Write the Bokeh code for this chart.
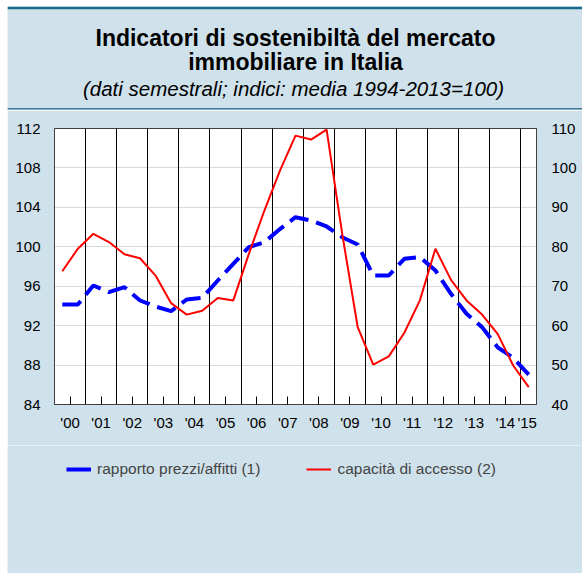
from bokeh.plotting import figure
from bokeh.models import (Range1d, LinearAxis, FixedTicker, Span, Label, Legend,
                          LegendItem, ColumnDataSource, Grid)
from bokeh.layouts import column
from bokeh.embed import file_html
from bokeh.resources import INLINE

# ---------------- data ----------------
periods = [2000.25, 2000.75, 2001.25, 2001.75, 2002.25, 2002.75, 2003.25, 2003.75,
           2004.25, 2004.75, 2005.25, 2005.75, 2006.25, 2006.75, 2007.25, 2007.75,
           2008.25, 2008.75, 2009.25, 2009.75, 2010.25, 2010.75, 2011.25, 2011.75,
           2012.25, 2012.75, 2013.25, 2013.75, 2014.25, 2014.75, 2015.25]

# rapporto prezzi/affitti (left axis)
prezzi_affitti = [94.15, 94.15, 96.07, 95.4, 95.9, 94.55, 93.94, 93.47,
                  94.65, 94.82, 96.58, 98.27, 99.96, 100.47, 101.8, 103.0,
                  102.67, 102.06, 100.97, 100.23, 97.09, 97.09, 98.78, 98.95,
                  97.6, 95.23, 93.2, 91.85, 89.8, 88.74, 87.04]

# capacità di accesso (right axis)
capacita_accesso = [73.8, 79.5, 83.3, 81.2, 78.1, 77.1, 72.7, 65.7,
                    62.8, 63.8, 67.0, 66.4, 78.2, 89.2, 99.3, 108.2,
                    107.2, 109.7, 83.4, 59.6, 50.1, 52.2, 58.2, 66.4,
                    79.5, 71.6, 66.4, 62.8, 57.9, 49.9, 44.4]

years = list(range(2000, 2016))
year_labels = ["'00", "'01", "'02", "'03", "'04", "'05", "'06", "'07",
               "'08", "'09", "'10", "'11", "'12", "'13", "'14", "'15"]
left_ticks = [84, 88, 92, 96, 100, 104, 108, 112]
right_ticks = [40, 50, 60, 70, 80, 90, 100, 110]

title1 = "Indicatori di sostenibiltà del mercato"
title2 = "immobiliare in Italia"
subtitle = "(dati semestrali; indici: media 1994-2013=100)"
legend_labels = ["rapporto prezzi/affitti (1)", "capacità di accesso (2)"]

# ---------------- styling ----------------
BG = "#cfe1eb"
FONT = "Liberation Sans"
W = 575

label_pos = [y + 0.5 for y in years[:-1]] + [years[-1] + 0.2]
mid_ticks = [y + 0.5 for y in years[:-1]]
year_bounds = years[1:]

def bare(fig):
    fig.xgrid.visible = False
    fig.ygrid.visible = False
    return fig

# ---------------- header ----------------
h = figure(width=W, height=104, x_range=Range1d(0, W), y_range=Range1d(0, 104),
           output_backend="svg", toolbar_location=None, min_border=0, frame_align=False,
           x_axis_type=None, y_axis_type=None,
           background_fill_color=BG, border_fill_color=BG, outline_line_color=None)
bare(h)
h.add_layout(Span(location=102.7, dimension="width", line_color="#176a8c", line_width=2.7))
h.add_layout(Span(location=1.7, dimension="width", line_color="#3d7d9b", line_width=1.5))
h.add_layout(Label(x=288, y=73, text=title1, text_align="center", text_baseline="alphabetic",
                   text_font=FONT, text_font_style="bold", text_font_size="23px", text_color="black"))
h.add_layout(Label(x=288, y=49, text=title2, text_align="center", text_baseline="alphabetic",
                   text_font=FONT, text_font_style="bold", text_font_size="23px", text_color="black"))
h.add_layout(Label(x=286, y=22.5, text=subtitle, text_align="center", text_baseline="alphabetic",
                   text_font=FONT, text_font_style="italic", text_font_size="20.5px", text_color="black"))

# ---------------- main chart ----------------
src = ColumnDataSource(data=dict(x=periods, pa=prezzi_affitti, ca=capacita_accesso))

p = figure(width=W, height=335, x_range=Range1d(2000, 2015.5), y_range=Range1d(84, 112),
           output_backend="svg", toolbar_location=None, frame_align=False,
           min_border_left=47, min_border_right=46, min_border_top=18, min_border_bottom=41,
           x_axis_type=None, y_axis_type=None,
           background_fill_color="white", border_fill_color=BG,
           outline_line_color="#404040", outline_line_width=1)
p.extra_y_ranges = {"right": Range1d(40, 110)}

yl = LinearAxis(ticker=FixedTicker(ticks=left_ticks), major_tick_line_color=None,
                major_tick_in=0, major_tick_out=0,
                minor_tick_line_color=None, minor_tick_in=0, minor_tick_out=0,
                axis_line_color="#404040",
                major_label_standoff=14, major_label_text_font=FONT,
                major_label_text_font_size="15px", major_label_text_color="black")
p.add_layout(yl, "left")

yr = LinearAxis(y_range_name="right", ticker=FixedTicker(ticks=right_ticks),
                major_tick_line_color=None, major_tick_in=0, major_tick_out=0,
                minor_tick_line_color=None, minor_tick_in=0, minor_tick_out=0,
                axis_line_color="#404040", major_label_standoff=15,
                major_label_text_font=FONT, major_label_text_font_size="15px",
                major_label_text_color="black")
p.add_layout(yr, "right")

xb = LinearAxis(ticker=FixedTicker(ticks=label_pos, minor_ticks=mid_ticks),
                major_tick_line_color=None, major_tick_in=0, major_tick_out=0,
                minor_tick_line_color="black", minor_tick_in=8, minor_tick_out=0,
                axis_line_color="#404040", major_label_standoff=9,
                major_label_text_font=FONT, major_label_text_font_size="15px",
                major_label_text_color="black",
                major_label_overrides={pos: lab for pos, lab in zip(label_pos, year_labels)})
p.add_layout(xb, "below")

p.add_layout(Grid(dimension=1, ticker=FixedTicker(ticks=left_ticks),
                  grid_line_color="#d9d9d9", grid_line_width=1))
p.add_layout(Grid(dimension=0, ticker=FixedTicker(ticks=year_bounds),
                  grid_line_color="black", grid_line_width=1))

p.line("x", "pa", source=src, line_color="#0000ff", line_width=4, line_dash="20 8")
p.line("x", "ca", source=src, line_color="#ff0000", line_width=2, y_range_name="right")

# ---------------- legend strip ----------------
# the series are drawn here far outside the visible ranges; only their legend swatches show
lf = figure(width=W, height=128, x_range=Range1d(0, 1), y_range=Range1d(0, 1),
            output_backend="svg", toolbar_location=None, min_border=0, frame_align=False,
            x_axis_type=None, y_axis_type=None,
            background_fill_color=BG, border_fill_color=BG, outline_line_color=None)
bare(lf)
lb = lf.line("x", "pa", source=src, line_color="#0000ff", line_width=4)
lr = lf.line("x", "ca", source=src, line_color="#ff0000", line_width=2)
legend = Legend(items=[LegendItem(label=legend_labels[0], renderers=[lb]),
                       LegendItem(label=legend_labels[1], renderers=[lr])],
                orientation="horizontal", location=(59, 94), padding=0, margin=0,
                spacing=46, glyph_width=25, glyph_height=20, label_standoff=6,
                label_text_font=FONT, label_text_font_size="15.5px",
                border_line_color=None, background_fill_alpha=0)
lf.add_layout(legend)

layout = column(h, p, lf, spacing=0, margin=(6, 0, 0, 7))
open("out.html", "w").write(file_html(layout, INLINE))
